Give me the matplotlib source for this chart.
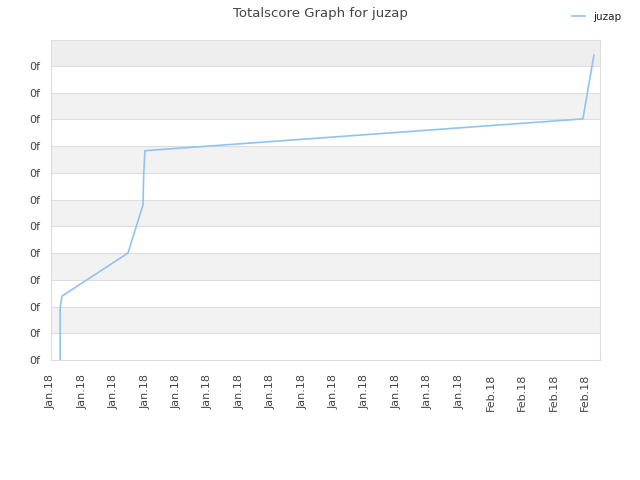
import numpy as np
import matplotlib
matplotlib.use("Agg")
import matplotlib.pyplot as plt

# x in tick units (one per date label), y in band units
xs = [0.29, 0.29, 0.35, 2.45, 2.93, 2.95, 2.99, 16.94, 17.29]
ys = [0.0, 1.95, 2.39, 4.0, 5.8, 6.85, 7.83, 9.02, 11.41]
tick_labels = ["Jan.18"] * 14 + ["Feb.18"] * 4
ytick_labels = ["0f"] * 12

fig = plt.figure(figsize=(6.4, 4.8), dpi=100)
ax = fig.add_axes([51/640, 1-360/480, 549/640, 320/480])

ymax = 320/26.73
ax.set_xlim(0, 549/31.4)
ax.set_ylim(0, ymax)

# alternating bands
for i in range(12):
    if i % 2 == 1:
        top = min(i+1, ymax)
        c = "#eeeeee" if i == 11 else "#f2f2f2"
        ax.axhspan(i, top, color=c, zorder=0, lw=0)
for i in range(1, 12):
    ax.axhline(i, color="#dddddd", lw=0.8, zorder=1)

ax.plot(xs, ys, color="#90c4f0", lw=1.2, label="juzap", zorder=3)

ax.set_xticks(np.arange(len(tick_labels)))
ax.set_xticklabels(tick_labels, rotation=90, fontsize=8, color="#444444")
ax.set_yticks(np.arange(len(ytick_labels)))
ax.set_yticklabels(ytick_labels, fontsize=8, color="#444444")
ax.tick_params(axis="x", length=0, pad=10)
ax.tick_params(axis="y", length=0, pad=8)
for s in ax.spines.values():
    s.set_color("#dddddd")

fig.suptitle("Totalscore Graph for juzap", x=0.5, y=0.985, fontsize=9.5, color="#444444")
fig.legend(loc="upper right", bbox_to_anchor=(0.985, 0.995), frameon=False, fontsize=7.5,
           handlelength=1.2, labelcolor="#222222")

fig.savefig("out.png", dpi=100)
